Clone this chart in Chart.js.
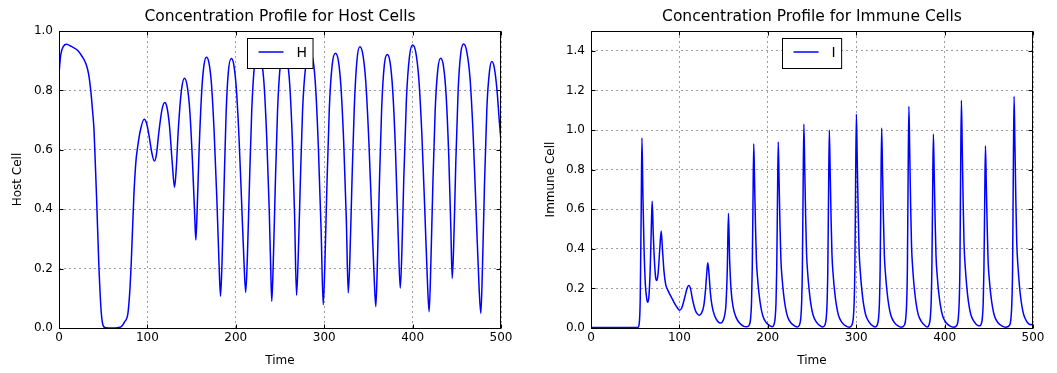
<!DOCTYPE html>
<html><head><meta charset="utf-8">
<script src="https://cdn.jsdelivr.net/npm/chart.js@4.4.1/dist/chart.umd.min.js"></script>
<style>
html,body{margin:0;padding:0;background:#fff;overflow:hidden;width:1057px;height:373px;}
#c1{position:absolute;left:0;top:0;}
#c2{position:absolute;left:528px;top:0;}
</style></head><body>
<canvas id="c1" width="528" height="373"></canvas>
<canvas id="c2" width="529" height="373"></canvas>
<script>
// ---- data ----
const hTime = [0,2,5,8.4,14,21,26,30.4,33.5,35.9,38,39.6,41,42.5,45,47.6,49,50.5,53,60,66,70.7,74,78,80,81.7,84.6,87,89,92,96.3,99,102,105,107.8,110,113,116.5,119.6,122,125,128,130.7,132.5,135,138.5,141.9,145,148,151,153.5,154.8,156.3,158.5,161.5,164,166.7,169.5,172.5,175.5,178.5,181,182.7,184.4,186.5,189,191.5,194.8,197.5,200.5,203.5,206.5,209.3,211.2,213,215.3,218,221,225,229,232,235,237.8,239.5,240.7,242.3,244.5,247.2,250.5,254.5,258,261,264,266.5,268.7,270.5,272.8,275.5,279,283.5,287.5,290.5,293.5,296.5,298.9,300.7,303,305.8,309,312.7,316,319,322,325,327.2,329,331.3,334,337,340.3,343.8,347,350.5,354,356.8,358.4,360,362.3,365,368,371.3,374.5,377.5,380.5,383.5,386,387.8,390,393,396.5,400,403.5,407,410.5,414,417,418.7,420.5,422.8,425.5,428.5,431.7,435,438,441,443.3,444.8,446.5,448.8,451.5,454.5,457.8,461.3,465,468.5,472,475.3,477.2,479,481.3,484,487,489.6,492.5,495.5,498,500];
const hValue = [0.857,0.92,0.948,0.955,0.948,0.935,0.915,0.89,0.855,0.80,0.73,0.667,0.56,0.44,0.218,0.06,0.02,0.005,0.001,0,0.001,0.005,0.02,0.05,0.12,0.218,0.44,0.56,0.61,0.665,0.703,0.69,0.645,0.59,0.562,0.58,0.66,0.735,0.759,0.745,0.68,0.56,0.474,0.53,0.67,0.8,0.841,0.815,0.73,0.56,0.38,0.296,0.4,0.6,0.8,0.885,0.912,0.895,0.82,0.66,0.44,0.22,0.107,0.22,0.45,0.72,0.86,0.907,0.89,0.81,0.65,0.43,0.22,0.12,0.23,0.47,0.73,0.88,0.925,0.9,0.82,0.64,0.4,0.2,0.09,0.21,0.46,0.73,0.89,0.93,0.905,0.82,0.63,0.38,0.11,0.23,0.47,0.73,0.88,0.925,0.9,0.8,0.6,0.33,0.078,0.21,0.47,0.74,0.885,0.925,0.9,0.81,0.63,0.37,0.118,0.23,0.48,0.74,0.9,0.947,0.92,0.83,0.63,0.36,0.15,0.072,0.2,0.47,0.74,0.885,0.921,0.895,0.8,0.61,0.33,0.134,0.25,0.5,0.77,0.915,0.953,0.93,0.84,0.65,0.38,0.14,0.055,0.2,0.47,0.73,0.87,0.908,0.88,0.78,0.57,0.33,0.167,0.28,0.55,0.8,0.925,0.956,0.93,0.84,0.65,0.38,0.13,0.049,0.2,0.48,0.74,0.865,0.897,0.875,0.8,0.7,0.63];

const iTime = [0,53,54.5,55.7,56.8,57.6,58.7,60,61.5,63,64.2,65.5,67,68.2,69.2,70.4,72,73.3,74.5,76,77.8,79.4,80.8,82.5,84.5,87,91,95,98,100,102.5,105.5,108.3,110.5,112.5,115,118,120.5,122.4,125,127.5,129.5,131,132.1,133.4,135,137,140,143,146.2,148.5,151,152.7,154.2,155.5,156.8,158.5,161,164,168,173,176,
179.1,180.6,181.6,182.4,183.2,184.1,185.1,186.1,187.1,188.6,190.1,192.1,194.6,198.1,203.1,205,
206.8,208.3,209.3,210.1,210.9,211.8,212.8,213.8,214.8,216.3,217.8,219.8,222.3,225.8,230.8,233.5,
235.8,237.3,238.3,239.1,239.9,240.8,241.8,242.8,243.8,245.3,246.8,248.8,251.3,254.8,259.8,262,
264.6,266.1,267.1,267.9,268.7,269.6,270.6,271.6,272.6,274.1,275.6,277.6,280.1,283.6,288.6,292,
295.2,296.7,297.7,298.5,299.3,300.2,301.2,302.2,303.2,304.7,306.2,308.2,310.7,314.2,319.2,321.5,
323.8,325.3,326.3,327.1,327.9,328.8,329.8,330.8,331.8,333.3,334.8,336.8,339.3,342.8,347.8,351,
354.6,356.1,357.1,357.9,358.7,359.6,360.6,361.6,362.6,364.1,365.6,367.6,370.1,373.6,378.6,380.5,
382.3,383.8,384.8,385.6,386.4,387.3,388.3,389.3,390.3,391.8,393.3,395.3,397.8,401.3,406.3,410,
414,415.5,416.5,417.3,418.1,419,420,421,422,423.5,425,427,429.5,433,438,439.6,
441.2,442.7,443.7,444.5,445.3,446.2,447.2,448.2,449.2,450.7,452.2,454.2,456.7,460.2,465.2,469,
473.6,475.1,476.1,476.9,477.7,478.6,479.6,480.6,481.6,483.1,484.6,486.6,489.1,492.6,495.5,498,500];
const iValue = [0.003,0.003,0.02,0.15,0.6,0.96,0.68,0.4,0.22,0.15,0.13,0.16,0.3,0.5,0.64,0.48,0.32,0.25,0.24,0.28,0.4,0.49,0.4,0.29,0.22,0.19,0.155,0.12,0.1,0.09,0.1,0.145,0.195,0.215,0.2,0.14,0.09,0.07,0.065,0.075,0.11,0.19,0.28,0.33,0.28,0.18,0.11,0.06,0.035,0.025,0.03,0.06,0.12,0.3,0.58,0.35,0.19,0.1,0.055,0.025,0.008,0.006,
0.015,0.05,0.13,0.3,0.614,0.93,0.725,0.512,0.344,0.242,0.172,0.107,0.058,0.028,0.009,0.006,
0.015,0.05,0.13,0.3,0.62,0.94,0.733,0.517,0.348,0.244,0.174,0.108,0.058,0.028,0.009,0.005,
0.015,0.05,0.13,0.3,0.68,1.03,0.803,0.567,0.381,0.268,0.191,0.118,0.064,0.031,0.009,0.005,
0.015,0.05,0.13,0.3,0.66,1.0,0.78,0.55,0.37,0.26,0.185,0.115,0.062,0.03,0.009,0.004,
0.015,0.05,0.13,0.3,0.713,1.08,0.842,0.594,0.4,0.281,0.2,0.124,0.067,0.032,0.009,0.005,
0.015,0.05,0.13,0.3,0.667,1.01,0.788,0.556,0.374,0.263,0.187,0.116,0.063,0.03,0.009,0.004,
0.015,0.05,0.13,0.3,0.739,1.12,0.874,0.616,0.414,0.291,0.207,0.129,0.069,0.034,0.009,0.005,
0.015,0.05,0.13,0.3,0.647,0.98,0.764,0.539,0.363,0.255,0.181,0.113,0.061,0.029,0.009,0.004,
0.015,0.05,0.13,0.3,0.759,1.15,0.897,0.633,0.426,0.299,0.213,0.132,0.071,0.035,0.012,0.011,
0.018,0.05,0.13,0.3,0.607,0.92,0.718,0.506,0.34,0.239,0.17,0.106,0.057,0.028,0.009,0.004,
0.015,0.05,0.13,0.3,0.772,1.17,0.913,0.644,0.433,0.304,0.216,0.135,0.073,0.035,0.02,0.017,0.02];

const xTicks = [0,100,200,300,400,500];
const xTickLabels = ['0','100','200','300','400','500'];
const hYTicks = [0,0.2,0.4,0.6,0.8,1.0];
const hYTickLabels = ['0.0','0.2','0.4','0.6','0.8','1.0'];
const iYTicks = [0,0.2,0.4,0.6,0.8,1.0,1.2,1.4];
const iYTickLabels = ['0.0','0.2','0.4','0.6','0.8','1.0','1.2','1.4'];

const FONT = '"DejaVu Sans", "Liberation Sans", sans-serif';

const framePlugin = {
  id: 'mplFrame',
  afterDraw(chart) {
    const {ctx, chartArea: a, scales} = chart;
    ctx.save();
    ctx.strokeStyle = '#000';
    ctx.lineWidth = 1;
    const L = Math.round(a.left) + 0.5, R = Math.round(a.right) - 0.5;
    const T = Math.round(a.top) + 0.5, B = Math.round(a.bottom) + 0.5;
    // inward ticks
    ctx.beginPath();
    for (const t of scales.x.ticks) {
      const px = Math.round(scales.x.getPixelForValue(t.value)) + 0.5;
      ctx.moveTo(px, B); ctx.lineTo(px, B - 4);
      ctx.moveTo(px, T); ctx.lineTo(px, T + 4);
    }
    for (const t of scales.y.ticks) {
      const py = Math.round(scales.y.getPixelForValue(t.value)) + 0.5;
      ctx.moveTo(L, py); ctx.lineTo(L + 4, py);
      ctx.moveTo(R, py); ctx.lineTo(R - 4, py);
    }
    ctx.stroke();
    ctx.strokeRect(L, T, R - L, B - T);
    // legend (upper center, inside the axes)
    const ds = chart.data.datasets[0];
    ctx.font = '14px ' + FONT;
    const tw = ctx.measureText(ds.label).width;
    const w = 11 + 25 + 13 + tw + 6, h = 30;
    const cx = (a.left + a.right) / 2;
    const x0 = Math.round(cx - w / 2) + 0.5, y0 = Math.round(a.top + 7) + 0.5;
    ctx.fillStyle = '#fff';
    ctx.fillRect(x0, y0, w, h);
    ctx.strokeRect(x0, y0, w, h);
    ctx.beginPath();
    ctx.strokeStyle = ds.borderColor;
    ctx.lineWidth = 1.5;
    ctx.moveTo(x0 + 11, y0 + 13.5); ctx.lineTo(x0 + 36, y0 + 13.5);
    ctx.stroke();
    ctx.fillStyle = '#000';
    ctx.textBaseline = 'middle';
    ctx.textAlign = 'left';
    ctx.fillText(ds.label, x0 + 49, y0 + 14.5);
    ctx.restore();
  }
};

function makeChart(id, times, values, label, yTicks, yLabels, yMax, yTitle, title, yW, padR, yTitlePad) {
  const pts = times.map((t, k) => ({x: t, y: values[k]}));
  return new Chart(document.getElementById(id), {
    type: 'line',
    data: {datasets: [{label: label, data: pts, borderColor: '#0000ff', borderWidth: 1.5,
      pointRadius: 0, fill: false, cubicInterpolationMode: 'monotone'}]},
    options: {
      responsive: false, animation: false, devicePixelRatio: 1,
      layout: {padding: {left: 0, right: padR, top: 0, bottom: 0}},
      plugins: {
        legend: {display: false}, tooltip: {enabled: false},
        title: {display: true, text: title, fullSize: false, color: '#000',
          font: {family: FONT, size: 15.5, weight: 'normal'}, padding: {top: 8, bottom: 4.4}}
      },
      scales: {
        x: {type: 'linear', min: 0, max: 500,
          afterBuildTicks: s => { s.ticks = xTicks.map(v => ({value: v})); },
          afterFit: s => { s.height = 45; },
          ticks: {callback: (v, i) => xTickLabels[i], color: '#000', font: {family: FONT, size: 12},
            padding: 3, maxRotation: 0, autoSkip: false},
          grid: {color: 'rgba(0,0,0,0.38)', lineWidth: 1, drawTicks: false},
          border: {display: false, dash: [2, 3]},
          title: {display: true, text: 'Time', color: '#000', font: {family: FONT, size: 12},
            padding: {top: 0, bottom: 4.5}}},
        y: {type: 'linear', min: 0, max: yMax,
          afterBuildTicks: s => { s.ticks = yTicks.map(v => ({value: v})); },
          afterFit: s => { s.width = yW; },
          ticks: {callback: (v, i) => yLabels[i], color: '#000', font: {family: FONT, size: 12}, padding: 6},
          grid: {color: 'rgba(0,0,0,0.38)', lineWidth: 1, drawTicks: false},
          border: {display: false, dash: [2, 3]},
          title: {display: true, text: yTitle, color: '#000', font: {family: FONT, size: 12},
            padding: {top: yTitlePad, bottom: 0}}}
      }
    },
    plugins: [framePlugin]
  });
}

makeChart('c1', hTime, hValue, 'H', hYTicks, hYTickLabels, 1.0, 'Host Cell',
  'Concentration Profile for Host Cells', 59, 27, 11);
makeChart('c2', iTime, iValue, 'I', iYTicks, iYTickLabels, 1.5, 'Immune Cell',
  'Concentration Profile for Immune Cells', 63, 24, 16);
</script>
</body></html>
